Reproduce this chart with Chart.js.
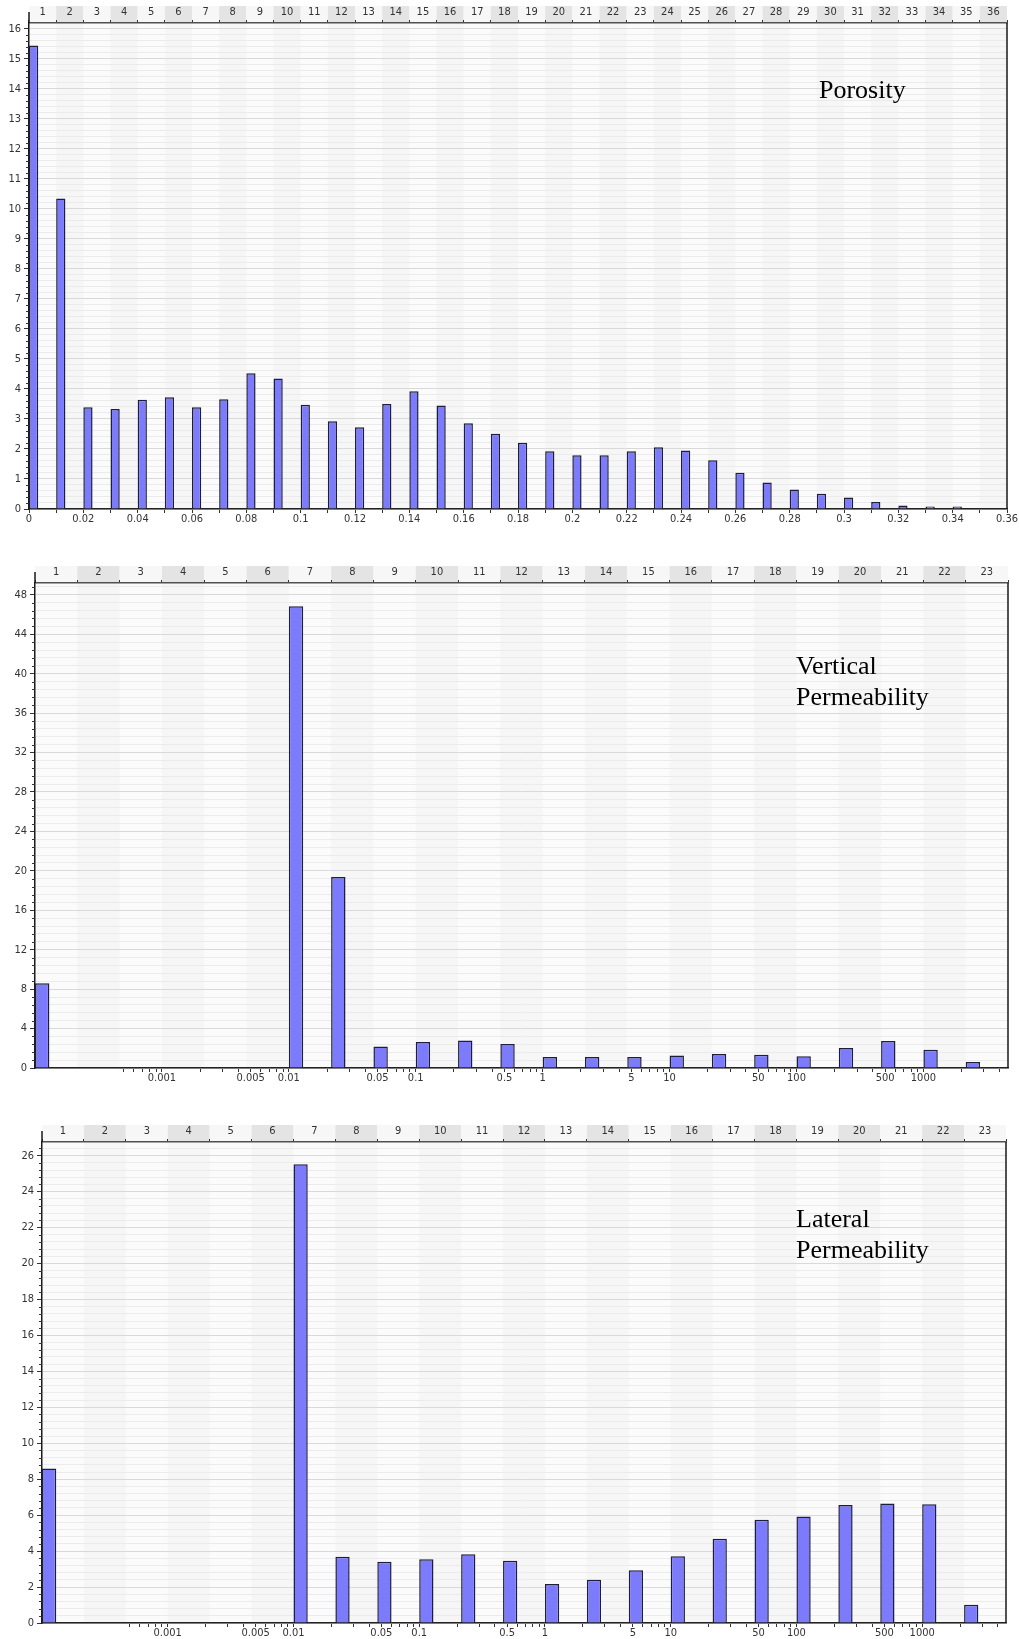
<!DOCTYPE html>
<html>
<head>
<meta charset="utf-8">
<title>Porosity and Permeability Distributions</title>
<script src="https://cdn.jsdelivr.net/npm/chart.js@4.4.1/dist/chart.umd.min.js"></script>
<style>
  html, body { margin: 0; padding: 0; background: #ffffff; width: 1019px; height: 1639px; overflow: hidden; }
  canvas { position: absolute; left: 0; }
  .label {
    position: absolute;
    font-family: "Liberation Serif", "Times New Roman", serif;
    font-size: 26px;
    line-height: 31px;
    color: #000;
    white-space: nowrap;
  }
</style>
</head>
<body>
<canvas id="porosityChart" width="1019" height="535" style="top:0px"></canvas>
<canvas id="verticalChart" width="1019" height="560" style="top:540px"></canvas>
<canvas id="lateralChart" width="1019" height="539" style="top:1100px"></canvas>

<div class="label" style="left:819px; top:74px;">Porosity</div>
<div class="label" style="left:796px; top:650px;">Vertical<br>Permeability</div>
<div class="label" style="left:796px; top:1203px;">Lateral<br>Permeability</div>

<script>
// ---- Porosity histogram (percent of samples per 0.01 class) ----
const porosityClasses = ['1','2','3','4','5','6','7','8','9','10','11','12','13','14','15','16','17','18',
                         '19','20','21','22','23','24','25','26','27','28','29','30','31','32','33','34','35','36'];
const porosityPercent = [15.44, 10.34, 3.39, 3.33, 3.64, 3.72, 3.39, 3.66, 4.52, 4.35, 3.47, 2.92,
                         2.72, 3.50, 3.92, 3.45, 2.86, 2.51, 2.21, 1.92, 1.79, 1.79, 1.92, 2.06,
                         1.95, 1.62, 1.21, 0.88, 0.65, 0.51, 0.38, 0.23, 0.12, 0.08, 0.08, 0];
const porosityRange = [0, 0.36];
const porosityTickLabels = [0, 0.02, 0.04, 0.06, 0.08, 0.1, 0.12, 0.14, 0.16, 0.18,
                            0.2, 0.22, 0.24, 0.26, 0.28, 0.3, 0.32, 0.34, 0.36];
const porosityYLabels = [0, 1, 2, 3, 4, 5, 6, 7, 8, 9, 10, 11, 12, 13, 14, 15, 16];

// ---- Permeability histograms (classes are thirds of a decade, log axis) ----
const permClasses = ['1','2','3','4','5','6','7','8','9','10','11','12',
                     '13','14','15','16','17','18','19','20','21','22','23'];
const verticalPermPercent = [8.6, 0, 0, 0, 0, 0, 46.84, 19.38, 2.19, 2.63, 2.8, 2.43,
                             1.11, 1.11, 1.11, 1.28, 1.42, 1.35, 1.18, 2.03, 2.73, 1.85, 0.61];
const lateralPermPercent  = [8.6, 0, 0, 0, 0, 0, 25.52, 3.68, 3.41, 3.54, 3.82, 3.46,
                             2.17, 2.41, 2.94, 3.72, 4.69, 5.74, 5.93, 6.57, 6.65, 6.61, 1.02];
const permRange = [0.0001, 4641.59];
const permTickLabels = [0.001, 0.005, 0.01, 0.05, 0.1, 0.5, 1, 5, 10, 50, 100, 500, 1000];
const verticalYLabels = [0, 4, 8, 12, 16, 20, 24, 28, 32, 36, 40, 44, 48];
const lateralYLabels  = [0, 2, 4, 6, 8, 10, 12, 14, 16, 18, 20, 22, 24, 26];

const AXIS_FONT = { family: '"DejaVu Sans Condensed", "DejaVu Sans", sans-serif', size: 11 };
const TEXT = '#333333';

const near = (a, b) => Math.abs(a - b) <= 1e-9 + Math.abs(b) * 1e-6;

// tick positions for the porosity value axis: every 0.01
function linearMinorTicks(range, step) {
  const out = [];
  const n = Math.round((range[1] - range[0]) / step);
  for (let i = 0; i <= n; i++) out.push(+(range[0] + i * step).toFixed(6));
  return out;
}

// tick positions for the log axis: 1..9 x 10^n, starting at 5e-4
function logMinorTicks(range) {
  const out = [];
  for (let e = -4; e <= 3; e++) {
    for (let m = 1; m <= 9; m++) {
      const v = +(m * Math.pow(10, e)).toPrecision(6);
      if (v >= 0.0005 - 1e-12 && v <= range[1]) out.push(v);
    }
  }
  return out;
}

function makePanel(id, cfg) {
  const canvas = document.getElementById(id);
  const W = canvas.width, H = canvas.height;
  const A = cfg.area;
  const majors = cfg.yLabels;
  const minorStep = (majors[1] - majors[0]) / 5;
  const yTicks = [];
  for (let i = 0; i * minorStep <= cfg.yMax + 1e-9; i++) yTicks.push(+(i * minorStep).toFixed(6));
  const isMajor = v => majors.some(m => near(v, m));

  const decor = {
    id: 'decor',
    afterDatasetsUpdate(chart) {
      // bars sit at the lower edge of their class
      const xs = chart.scales.x;
      const band = (xs.right - xs.left) / chart.data.labels.length;
      chart.getDatasetMeta(0).data.forEach(el => { el.x += -band / 2 + el.width / 2; });
    },
    beforeDraw(chart) {
      const { ctx, chartArea: a } = chart;
      const n = chart.data.labels.length;
      const band = (a.right - a.left) / n;
      ctx.save();
      ctx.fillStyle = '#fbfbfb';
      ctx.fillRect(a.left, a.top, a.right - a.left, a.bottom - a.top);
      for (let i = 0; i < n; i++) {
        const x0 = a.left + i * band;
        if (i % 2 === 1) {
          ctx.fillStyle = '#f6f6f6';
          ctx.fillRect(x0, a.top, band, a.bottom - a.top);
        }
        ctx.fillStyle = (i % 2 === 1) ? '#e4e4e4' : '#f7f7f7';
        ctx.fillRect(x0, cfg.stripTop, band, a.top - cfg.stripTop);
      }
      ctx.restore();
    },
    afterDraw(chart) {
      const { ctx, chartArea: a, scales } = chart;
      ctx.save();
      // short minor ticks on the count axis
      ctx.strokeStyle = '#333';
      ctx.lineWidth = 1;
      ctx.beginPath();
      yTicks.forEach(v => {
        if (isMajor(v)) return;
        const y = Math.round(scales.y.getPixelForValue(v)) + 0.5;
        ctx.moveTo(a.left - 3, y);
        ctx.lineTo(a.left, y);
      });
      ctx.stroke();
      // frame: right border and the axis stub above the class strip
      ctx.strokeStyle = '#1a1a1a';
      ctx.lineWidth = 1.5;
      ctx.beginPath();
      ctx.moveTo(a.right, a.top);
      ctx.lineTo(a.right, a.bottom);
      ctx.moveTo(a.left, cfg.stripTop + 6);
      ctx.lineTo(a.left, a.top);
      ctx.stroke();
      ctx.restore();
    }
  };

  return new Chart(canvas, {
    type: 'bar',
    data: {
      labels: cfg.classes,
      datasets: [{
        data: cfg.values,
        xAxisID: 'x',
        yAxisID: 'y',
        backgroundColor: '#7b7bfc',
        borderColor: '#1e1e3a',
        borderWidth: 1.5,
        barPercentage: 0.34,
        categoryPercentage: 1
      }]
    },
    options: {
      responsive: false,
      animation: false,
      devicePixelRatio: 1,
      events: [],
      layout: { padding: { left: 0, top: cfg.stripTop, right: W - A.right, bottom: 0 } },
      plugins: { legend: { display: false }, tooltip: { enabled: false }, title: { display: false } },
      scales: {
        x: {
          type: 'category',
          position: 'top',
          offset: true,
          grid: { offset: true, drawOnChartArea: false, drawTicks: true, tickLength: 3, color: '#333', lineWidth: 1 },
          border: { display: true, color: '#505050', width: 1.5 },
          ticks: { font: AXIS_FONT, color: TEXT, padding: 1, maxRotation: 0, minRotation: 0, autoSkip: false },
          afterFit(s) { s.height = A.top - cfg.stripTop; s.paddingLeft = 0; s.paddingRight = 0; }
        },
        v: Object.assign({
          position: 'bottom',
          offset: false,
          grid: { offset: false, drawOnChartArea: false, drawTicks: true, tickLength: 4, color: '#333', lineWidth: 1 },
          border: { display: true, color: '#222', width: 1.5 },
          ticks: {
            font: AXIS_FONT, color: TEXT, padding: 0, maxRotation: 0, minRotation: 0, autoSkip: false,
            callback: v => { const hit = cfg.tickLabels.find(t => near(v, t)); return hit === undefined ? '' : String(hit); }
          },
          afterBuildTicks(s) { s.ticks = cfg.valueTicks.map(v => ({ value: v })); },
          afterFit(s) { s.height = H - A.bottom; s.paddingLeft = 0; s.paddingRight = 0; }
        }, cfg.valueAxis),
        y: {
          type: 'linear',
          position: 'left',
          min: 0,
          max: cfg.yMax,
          afterBuildTicks(s) { s.ticks = yTicks.map(v => ({ value: v })); },
          ticks: {
            font: AXIS_FONT, color: TEXT, padding: 3, autoSkip: false,
            callback: v => isMajor(v) ? String(Math.round(v)) : ''
          },
          grid: {
            color: c => (c.tick && isMajor(c.tick.value)) ? '#d9d9d9' : '#ebebeb',
            lineWidth: 1,
            tickLength: 5,
            tickColor: c => (c.tick && isMajor(c.tick.value)) ? '#333' : 'rgba(0,0,0,0)'
          },
          border: { display: true, color: '#1a1a1a', width: 1.5 },
          afterFit(s) { s.width = A.left; s.paddingTop = 0; s.paddingBottom = 0; }
        }
      }
    },
    plugins: [decor]
  });
}

makePanel('porosityChart', {
  classes: porosityClasses,
  values: porosityPercent,
  tickLabels: porosityTickLabels,
  valueTicks: linearMinorTicks(porosityRange, 0.01),
  valueAxis: { type: 'linear', min: porosityRange[0], max: porosityRange[1] },
  yLabels: porosityYLabels,
  yMax: 16.19,
  stripTop: 6,
  area: { left: 29, top: 23, right: 1007, bottom: 509 }
});

makePanel('verticalChart', {
  classes: permClasses,
  values: verticalPermPercent,
  tickLabels: permTickLabels,
  valueTicks: logMinorTicks(permRange),
  valueAxis: { type: 'logarithmic', min: permRange[0], max: permRange[1] },
  yLabels: verticalYLabels,
  yMax: 49.2,
  stripTop: 26,
  area: { left: 35, top: 43, right: 1008, bottom: 528 }
});

makePanel('lateralChart', {
  classes: permClasses,
  values: lateralPermPercent,
  tickLabels: permTickLabels,
  valueTicks: logMinorTicks(permRange),
  valueAxis: { type: 'logarithmic', min: permRange[0], max: permRange[1] },
  yLabels: lateralYLabels,
  yMax: 26.76,
  stripTop: 25,
  area: { left: 42, top: 42, right: 1006, bottom: 523 }
});
</script>
</body>
</html>
